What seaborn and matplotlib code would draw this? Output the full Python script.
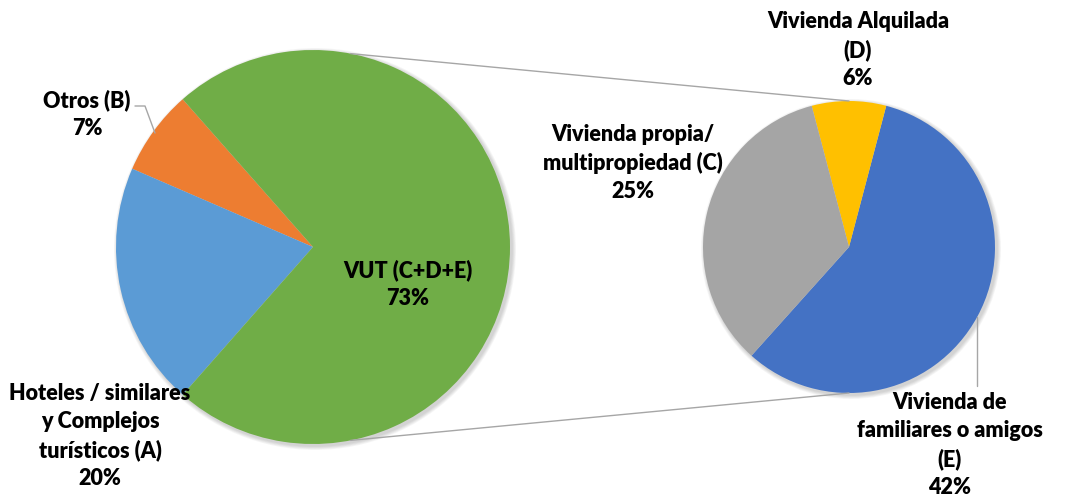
import matplotlib
matplotlib.use("Agg")
import matplotlib.pyplot as plt
import seaborn as sns
import numpy as np
from matplotlib.patches import Circle

# ---- data ----
main_labels = ["Otros (B)", "Hoteles / similares\ny Complejos\nturísticos (A)", "VUT (C+D+E)"]
main_values = [7, 20, 73]
main_colors = ["#ED7D31", "#5B9BD5", "#70AD47"]

sub_labels = ["Vivienda de\nfamiliares o amigos\n(E)", "Vivienda Alquilada\n(D)", "Vivienda propia/\nmultipropiedad (C)"]
sub_values = [42, 6, 25]
sub_colors = ["#4472C4", "#FFC000", "#A5A5A5"]

sns.set_theme(style="white")
plt.rcParams['font.family'] = ['Lato', 'DejaVu Sans']

W, H = 1068, 499
fig = plt.figure(figsize=(W / 100, H / 100), dpi=100)
ax = fig.add_axes([0, 0, 1, 1])

# geometry (pixel-like units, y upward)
c1 = (313, H - 247); r1 = 197
c2 = (849, H - 247); r2 = 146

# soft shadows
for c, r in [(c1, r1), (c2, r2)]:
    for k in range(1, 6):
        ax.add_patch(Circle((c[0] + 2, c[1] - 2), r + k * 0.8, color="black",
                            alpha=0.035, lw=0, zorder=0))

ax.pie(main_values, colors=main_colors, startangle=131.4, counterclock=True,
       center=c1, radius=r1, wedgeprops=dict(linewidth=0), frame=False)
ax.pie(sub_values, colors=sub_colors, startangle=228.1, counterclock=True,
       center=c2, radius=r2, wedgeprops=dict(linewidth=0), frame=False)

# connector lines
a = np.deg2rad(79)
ax.plot([c1[0] + r1 * np.cos(a), c2[0]], [c1[1] + r1 * np.sin(a), c2[1] + r2],
        color="#A6A6A6", lw=1.0, zorder=1)
ax.plot([c1[0] + r1 * np.cos(a), c2[0]], [c1[1] - r1 * np.sin(a), c2[1] - r2],
        color="#A6A6A6", lw=1.0, zorder=1)

# leader lines
ax.plot([135, 145, 155], [H - 106, H - 106, H - 133], color="#A6A6A6", lw=1.0, zorder=3)
ax.plot([977, 977], [H - 317, H - 386], color="#A6A6A6", lw=1.0, zorder=3)

tk = dict(ha="center", va="center", fontsize=15.5, fontweight="heavy",
          color="black", linespacing=1.42, zorder=5)

def pct(v, tot):
    return f"{round(v / tot * 100):d}%"

tot = sum(main_values)
ax.text(87, H - 114, f"{main_labels[0]}\n{pct(main_values[0], tot)}", **tk)
ax.text(100, H - 436, f"{main_labels[1]}\n{pct(main_values[1], tot)}", **tk)
ax.text(408, H - 284, f"{main_labels[2]}\n{pct(main_values[2], tot)}", **tk)

ax.text(950, H - 445, f"{sub_labels[0]}\n{sub_values[0]}%", **tk)
ax.text(858, H - 50, f"{sub_labels[1]}\n{sub_values[1]}%", **tk)
ax.text(633, H - 163, f"{sub_labels[2]}\n{sub_values[2]}%", **tk)

ax.set_xlim(0, W)
ax.set_ylim(0, H)
ax.set_aspect("equal")
ax.axis("off")

fig.savefig("out.png", dpi=100, facecolor="white")
